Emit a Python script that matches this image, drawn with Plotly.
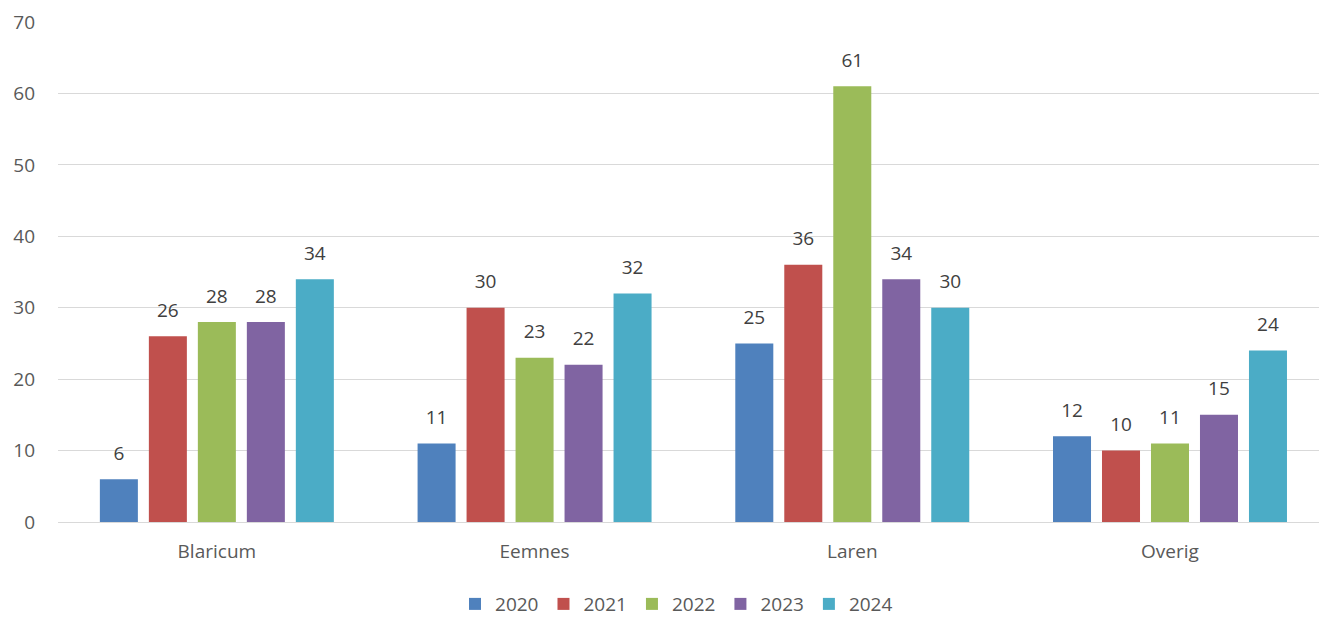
import plotly.graph_objects as go

categories = ["Blaricum", "Eemnes", "Laren", "Overig"]
years = ["2020", "2021", "2022", "2023", "2024"]
values = {
    "2020": [6, 11, 25, 12],
    "2021": [26, 30, 36, 10],
    "2022": [28, 23, 61, 11],
    "2023": [28, 22, 34, 15],
    "2024": [34, 32, 30, 24],
}
colors = ["#4F81BD", "#C0504D", "#9BBB59", "#8064A2", "#4BACC6"]
y_ticks = [0, 10, 20, 30, 40, 50, 60, 70]

FONT = "'Open Sans', sans-serif"
FS = 19
GAP = 0.229

fig = go.Figure()
for yr, col in zip(years, colors):
    fig.add_trace(go.Bar(
        name=yr, x=categories, y=values[yr],
        marker=dict(color=col, line=dict(width=0)),
        hoverinfo="x+y",
    ))
for yr, col in zip(years, colors):
    fig.add_trace(go.Scatter(
        x=categories, y=values[yr], mode="markers+text",
        text=[str(v) for v in values[yr]],
        textposition="top center",
        textfont=dict(family=FONT, size=FS, color="#404040"),
        marker=dict(size=22, opacity=0),
        showlegend=False, hoverinfo="skip",
    ))

fig.update_layout(
    width=1319, height=617,
    margin=dict(l=58, r=0, t=22, b=95, autoexpand=False),
    plot_bgcolor="white", paper_bgcolor="white",
    barmode="group", bargap=GAP, bargroupgap=0.224,
    scattermode="group", scattergap=GAP,
    font=dict(family=FONT, size=FS, color="#595959"),
    xaxis=dict(range=[-0.5, 3.469], showgrid=False, showline=False,
               ticks="", tickfont=dict(size=FS, color="#595959"),
               ticklabelstandoff=16, automargin=False),
    yaxis=dict(range=[0, 70], tickvals=y_ticks, showgrid=True,
               gridcolor="#D9D9D9", gridwidth=1, zeroline=True,
               zerolinecolor="#D9D9D9", zerolinewidth=1,
               tickfont=dict(size=FS, color="#595959"),
               ticklabelstandoff=22, automargin=False),
    legend=dict(orientation="h", x=0.4905, xanchor="center",
                yref="container", y=0.021, yanchor="middle",
                font=dict(size=FS, color="#595959"),
                itemwidth=30, traceorder="normal"),
    showlegend=True,
)
fig.write_html(
    "out.html",
    config={"displayModeBar": False},
    post_script="document.body.style.margin='0';document.body.style.overflow='hidden';",
)
